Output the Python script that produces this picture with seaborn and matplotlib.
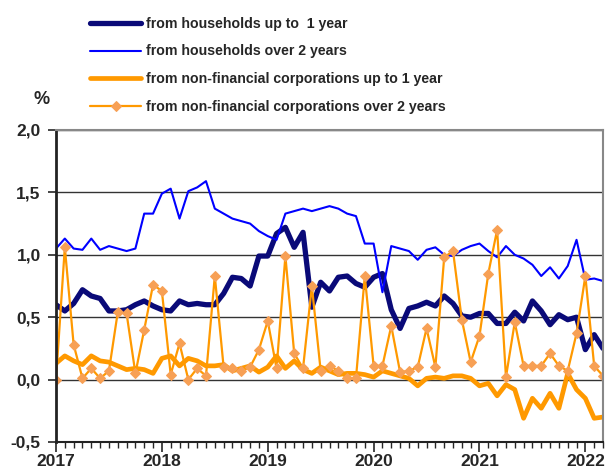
import numpy as np
import pandas as pd
import matplotlib
matplotlib.use("Agg")
import matplotlib.pyplot as plt
import seaborn as sns
from matplotlib.ticker import FuncFormatter, MultipleLocator

# monthly data, Jan 2017 - Mar 2022
hh_up_to_1y = [0.60, 0.55, 0.61, 0.72, 0.67, 0.65, 0.55, 0.55, 0.56, 0.60, 0.63, 0.59,
               0.56, 0.55, 0.63, 0.60, 0.61, 0.60, 0.60, 0.69, 0.82, 0.81, 0.75, 0.99,
               0.99, 1.17, 1.22, 1.06, 1.18, 0.58, 0.78, 0.71, 0.82, 0.83, 0.77, 0.74,
               0.82, 0.85, 0.56, 0.41, 0.57, 0.59, 0.62, 0.59, 0.67, 0.61, 0.51, 0.50,
               0.53, 0.53, 0.45, 0.45, 0.54, 0.47, 0.63, 0.55, 0.44, 0.52, 0.48, 0.50,
               0.24, 0.36, 0.25]
hh_over_2y = [1.05, 1.13, 1.05, 1.04, 1.13, 1.04, 1.07, 1.05, 1.03, 1.05, 1.33, 1.33,
              1.49, 1.53, 1.29, 1.51, 1.54, 1.59, 1.37, 1.33, 1.29, 1.27, 1.25, 1.19,
              1.15, 1.12, 1.33, 1.35, 1.37, 1.35, 1.37, 1.39, 1.37, 1.33, 1.31, 1.09,
              1.09, 0.70, 1.07, 1.05, 1.03, 0.96, 1.04, 1.06, 1.00, 0.99, 1.04, 1.07,
              1.09, 1.03, 0.98, 1.07, 1.00, 0.97, 0.92, 0.83, 0.90, 0.81, 0.91, 1.12,
              0.80, 0.81, 0.79]
nfc_up_to_1y = [0.13, 0.19, 0.15, 0.12, 0.19, 0.15, 0.14, 0.11, 0.08, 0.09, 0.08, 0.05,
                0.17, 0.19, 0.11, 0.17, 0.15, 0.11, 0.11, 0.12, 0.07, 0.09, 0.11, 0.06,
                0.10, 0.19, 0.09, 0.15, 0.08, 0.05, 0.10, 0.07, 0.04, 0.05, 0.05, 0.04,
                0.02, 0.07, 0.05, 0.03, 0.01, -0.05, 0.01, 0.02, 0.01, 0.03, 0.03, 0.01,
                -0.05, -0.03, -0.13, -0.04, -0.08, -0.31, -0.15, -0.23, -0.11, -0.23, 0.05, -0.08,
                -0.15, -0.31, -0.30]
nfc_over_2y = [0.00, 1.06, 0.28, 0.01, 0.09, 0.01, 0.07, 0.54, 0.53, 0.05, 0.40, 0.76,
               0.71, 0.04, 0.29, 0.00, 0.09, 0.03, 0.83, 0.10, 0.09, 0.07, 0.10, 0.24,
               0.47, 0.09, 0.99, 0.21, 0.09, 0.75, 0.07, 0.11, 0.07, 0.01, 0.01, 0.83,
               0.11, 0.11, 0.43, 0.06, 0.07, 0.10, 0.41, 0.10, 0.98, 1.03, 0.48, 0.14,
               0.35, 0.85, 1.20, 0.02, 0.46, 0.11, 0.11, 0.11, 0.21, 0.11, 0.07, 0.37,
               0.83, 0.11, 0.03]

years = ["2017", "2018", "2019", "2020", "2021", "2022"]
labels = ["from households up to  1 year",
          "from households over 2 years",
          "from non-financial corporations up to 1 year",
          "from non-financial corporations over 2 years"]

months = np.arange(len(hh_up_to_1y))
df = pd.DataFrame({"month": months, "hh1": hh_up_to_1y, "hh2": hh_over_2y,
                   "nfc1": nfc_up_to_1y, "nfc2": nfc_over_2y})

sns.set_style("white")
plt.rcParams["font.family"] = ["Liberation Sans", "DejaVu Sans"]
plt.rcParams["font.weight"] = "bold"

fig = plt.figure(figsize=(6.08, 4.71), dpi=100)
ax = fig.add_axes([56 / 608, 29 / 471, 547 / 608, 312 / 471])

sns.lineplot(data=df, x="month", y="hh1", ax=ax, color="#0a0a78", lw=3.8,
             label=labels[0])
sns.lineplot(data=df, x="month", y="hh2", ax=ax, color="#0000ff", lw=1.5,
             label=labels[1])
sns.lineplot(data=df, x="month", y="nfc1", ax=ax, color="#ff9900", lw=3.4,
             label=labels[2])
sns.lineplot(data=df, x="month", y="nfc2", ax=ax, color="#ff9900", lw=1.6,
             marker="D", markersize=5.5, markerfacecolor="#f7a055",
             markeredgecolor="#f7a055", label=labels[3])

ax.set_xlim(0, len(months) - 1)
ax.set_ylim(-0.5, 2.0)
ax.yaxis.set_major_locator(MultipleLocator(0.5))
ax.yaxis.set_major_formatter(FuncFormatter(lambda v, p: f"{v:.1f}".replace(".", ",")))
ax.set_xticks(np.arange(0, len(months), 12))
ax.set_xticklabels(years)
ax.set_xticks(months, minor=True)
ax.tick_params(axis="x", which="major", direction="out", length=7, width=1.2,
               labelsize=12.5, pad=2, bottom=True)
ax.tick_params(axis="x", which="minor", direction="out", length=4, width=1, bottom=True)
ax.tick_params(axis="y", direction="out", length=6, width=1.2, labelsize=12.5,
               pad=5, left=True)
for t in ax.get_xticklabels() + ax.get_yticklabels():
    t.set_fontweight("bold")
ax.set_xlabel("")
ax.set_ylabel("")

ax.grid(axis="y", color="#333333", lw=1)
ax.set_axisbelow(True)
ax.spines["left"].set_color("#222222")
ax.spines["left"].set_linewidth(2)
ax.spines["bottom"].set_color("#222222")
ax.spines["bottom"].set_linewidth(1.5)
for s in ("top", "right"):
    ax.spines[s].set_color("#888888")
    ax.spines[s].set_linewidth(1.5)

handles, labs = ax.get_legend_handles_labels()
ax.get_legend().remove()
fig.legend(handles, labs, loc="upper left", bbox_to_anchor=(77 / 608, 1 - 4 / 471),
           frameon=False, handlelength=3.65, labelspacing=0.97,
           handletextpad=0.3, prop={"weight": "bold", "size": 10.2})

fig.text(34 / 608, 1 - 100 / 471, "%", fontsize=13, va="center", ha="left")

fig.savefig("out.png", dpi=100)
